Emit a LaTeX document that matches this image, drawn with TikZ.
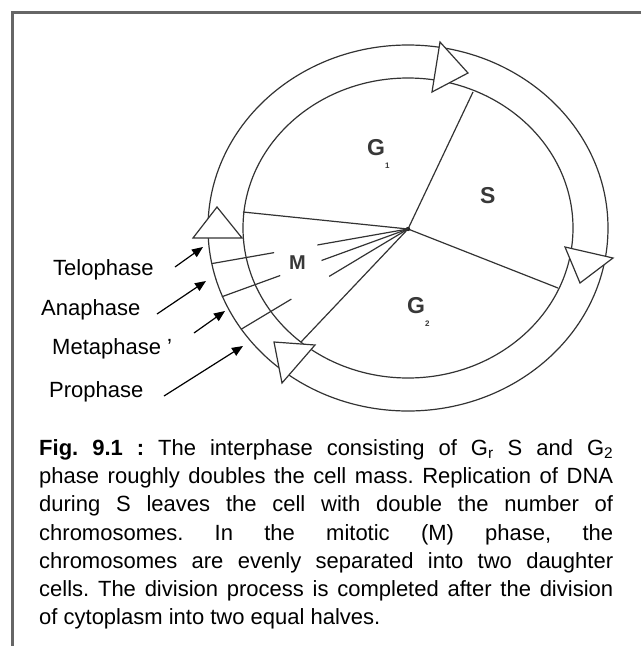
\documentclass[tikz,border=0pt]{standalone}
\usepackage{fontspec}
\setmainfont{Liberation Sans}
\usetikzlibrary{arrows.meta}
\tikzset{every node/.style={font=\fontsize{22}{28.3}\selectfont},line cap=round,line join=round}
\newcommand{\phaseG}[1]{G\raisebox{-13pt}{\fontsize{8}{8}\selectfont #1}}
\frenchspacing

\begin{document}
\begin{tikzpicture}[x=1pt,y=-1pt,
    ring/.style={line width=1.2pt,draw=black!80},
    arrowhd/.style={ring,fill=white},
    frame/.style={line width=3pt,draw=black!60},
    pointer/.style={line width=1.2pt,-{Triangle[length=11pt,width=9pt]}},
    phase/.style={anchor=base west,inner sep=0pt},
    sector/.style={anchor=base west,inner sep=0pt,text=black!78,font=\fontsize{23}{23}\selectfont\bfseries}]
  \path[use as bounding box] (0,0) rectangle (641,646);
  \draw[frame] (641,12) -- (12,12) -- (12,646);

  % cycle ring
  \coordinate (ctr) at (408,228);
  \coordinate (hub) at (408,229);
  \draw[ring] (ctr) ellipse [x radius=165, y radius=150];
  \draw[ring] (ctr) ellipse [x radius=200, y radius=183];

  % sector borders
  \draw[ring] (hub) -- (473,92);
  \draw[ring] (hub) -- (558,288);
  \draw[ring] (hub) -- (243,212);
  \draw[ring] (hub) -- (301,342);
  \fill[black!85] (hub) circle (2.2);

  % stages inside M
  \foreach \a/\r in {170/199,160/198,149/195} {
    \draw[ring] (hub) -- ++(\a:92);
    \draw[ring] ([shift={(\a:136)}]hub) -- ([shift={(\a:\r)}]hub);
  }

  % arrow heads on the ring
  \draw[arrowhd] (440,42) -- (468,73) -- (432,92) -- cycle;
  \draw[arrowhd] (565,247) -- (613,258) -- (580,283) -- cycle;
  \draw[arrowhd] (274,342) -- (315,345) -- (282,383) -- cycle;
  \draw[arrowhd] (217,207) -- (193,238) -- (242,238) -- cycle;

  \node[sector] (g1) at (367,155) {\phaseG{1}};
  \node[sector] (s) at (480,203) {S};
  \node[sector] (g2) at (407,313) {\phaseG{2}};
  \node[sector,font=\fontsize{20}{20}\selectfont\bfseries] (m) at (289,269) {M};

  % stage labels
  \node[phase] (telo) at (53,275) {Telophase};
  \node[phase] (ana) at (41,315) {Anaphase};
  \node[phase] (meta) at (52,354) {Metaphase '};
  \node[phase] (pro) at (49,397) {Prophase};
  \coordinate (telo-from) at (175,267);
  \coordinate (telo-to) at (203,247);
  \coordinate (ana-from) at (157,314);
  \coordinate (ana-to) at (206,281);
  \coordinate (meta-from) at (194,333);
  \coordinate (meta-to) at (225,311);
  \coordinate (pro-from) at (164,396);
  \coordinate (pro-to) at (243,346);
  \foreach \s in {telo,ana,meta,pro}
    \draw[pointer] (\s-from) -- (\s-to);

  % caption
  \node[anchor=north west,inner sep=0pt,text width=574pt,align=justify] (cap) at (39,439)
    {\textbf{Fig. 9.1 :} The interphase consisting of G\textsubscript{r} S and G\textsubscript{2}\linebreak
     phase roughly doubles the cell mass. Replication of DNA\linebreak
     during S leaves the cell with double the number of\linebreak
     chromosomes. In the mitotic (M) phase, the\linebreak
     chromosomes are evenly separated into two daughter\linebreak
     cells. The division process is completed after the division\linebreak
     of cytoplasm into two equal halves.};
\end{tikzpicture}
\end{document}
